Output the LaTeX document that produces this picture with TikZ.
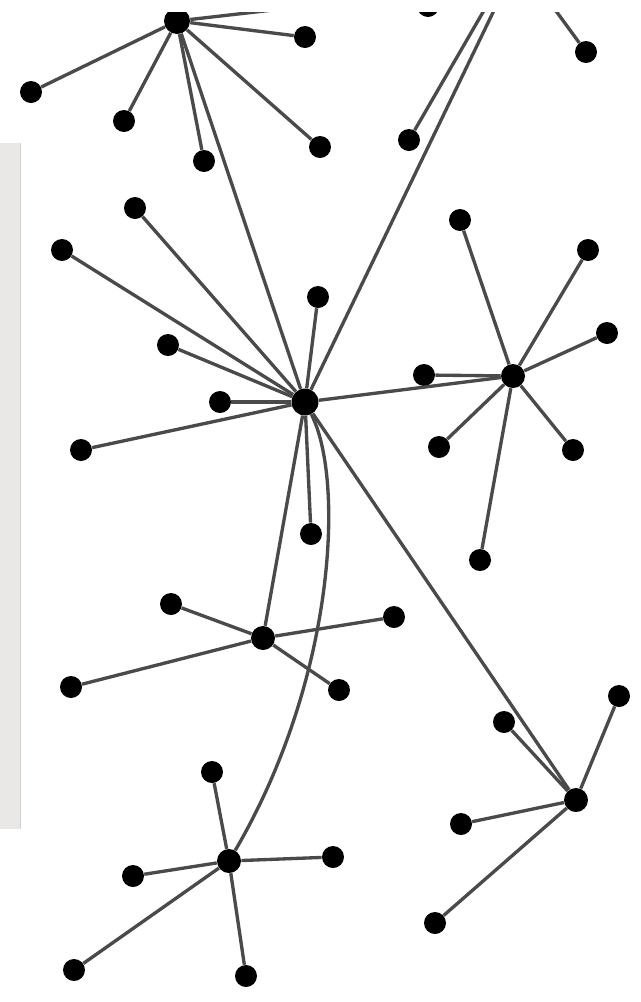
\documentclass[tikz,border=0pt]{standalone}
\usetikzlibrary{calc}

\begin{document}
\begin{tikzpicture}[x=0.02cm, y=-0.02cm,
    leaf/.style={circle, fill=black, inner sep=0pt, minimum size=0.44cm},
    hub/.style={circle, fill=black, inner sep=0pt, minimum size=0.48cm},
    link/.style={draw=linkColour, line width=1.9pt}]
    % Define colours
    \definecolor{linkColour}{HTML}{4A4A4A}
    \definecolor{panelColour}{HTML}{E9E8E6}
    \definecolor{panelEdge}{HTML}{D3D2D0}

  \useasboundingbox (0,0) rectangle (640,1002);

  % Draw the side panel
  \fill[panelColour] (0,143) rectangle (20,829);
  \draw[panelEdge, line width=0.8pt] (20.5,143) -- (20.5,829);

  \begin{scope}
  \clip (0,12) rectangle (640,1002);

  % Define the hubs
  \node[hub, minimum size=0.52cm] (A) at (177,21) {};
  \node[hub, minimum size=0.54cm] (B) at (305,402) {};
  \node[hub] (C) at (513,376) {};
  \node[hub] (D) at (263,638) {};
  \node[hub] (E) at (229,861) {};
  \node[hub] (F) at (576,800) {};

  % Points beyond the top edge
  \coordinate (g1) at (499,0);
  \coordinate (g2) at (490,0);
  \coordinate (g3) at (548,0);
  \coordinate (g4) at (360,0);

  % Define the leaves
  \foreach \name/\pos in {a1/{(305,37)}, a2/{(31,92)}, a3/{(124,121)},
      a4/{(204,161)}, a5/{(320,147)}, t1/{(428,6)}, t2/{(409,140)},
      t3/{(586,52)}}
    \node[leaf] (\name) at \pos {};
  \foreach \name/\pos in {b1/{(135,208)}, b2/{(62,250)}, b3/{(318,297)},
      b4/{(168,345)}, b5/{(220,402)}, b6/{(81,450)}, b7/{(311,534)}}
    \node[leaf] (\name) at \pos {};
  \foreach \name/\pos in {c1/{(460,220)}, c2/{(588,250)}, c3/{(607,333)},
      c4/{(424,375)}, c5/{(439,447)}, c6/{(573,450)}, c7/{(480,560)}}
    \node[leaf] (\name) at \pos {};
  \foreach \name/\pos in {d1/{(171,604)}, d2/{(394,617)}, d3/{(71,687)},
      d4/{(339,690)}}
    \node[leaf] (\name) at \pos {};
  \foreach \name/\pos in {e1/{(212,772)}, e2/{(333,857)}, e3/{(133,876)},
      e4/{(74,970)}, e5/{(246,976)}}
    \node[leaf] (\name) at \pos {};
  \foreach \name/\pos in {f1/{(619,696)}, f2/{(504,722)}, f3/{(461,824)},
      f4/{(435,923)}}
    \node[leaf] (\name) at \pos {};

  % Draw the spokes
  \foreach \i in {1,...,5} \draw[link] (A) -- (a\i);
  \foreach \i in {1,...,7} \draw[link] (B) -- (b\i);
  \foreach \i in {1,...,7} \draw[link] (C) -- (c\i);
  \foreach \i in {1,...,4} \draw[link] (D) -- (d\i);
  \foreach \i in {1,...,5} \draw[link] (E) -- (e\i);
  \foreach \i in {1,...,4} \draw[link] (F) -- (f\i);
  \draw[link] (A) -- (g4);
  \draw[link] (t2) -- (g2);
  \draw[link] (t3) -- (g3);

  % Draw the links between hubs
  \draw[link] (B) -- (A);
  \draw[link] (B) -- (g1);
  \draw[link] (B) -- (C);
  \draw[link] (B) -- (D);
  \draw[link] (B) -- (F);
  \draw[link] (B) .. controls (345,480) and (335,680) .. (E);
  \end{scope}

\end{tikzpicture}
\end{document}
